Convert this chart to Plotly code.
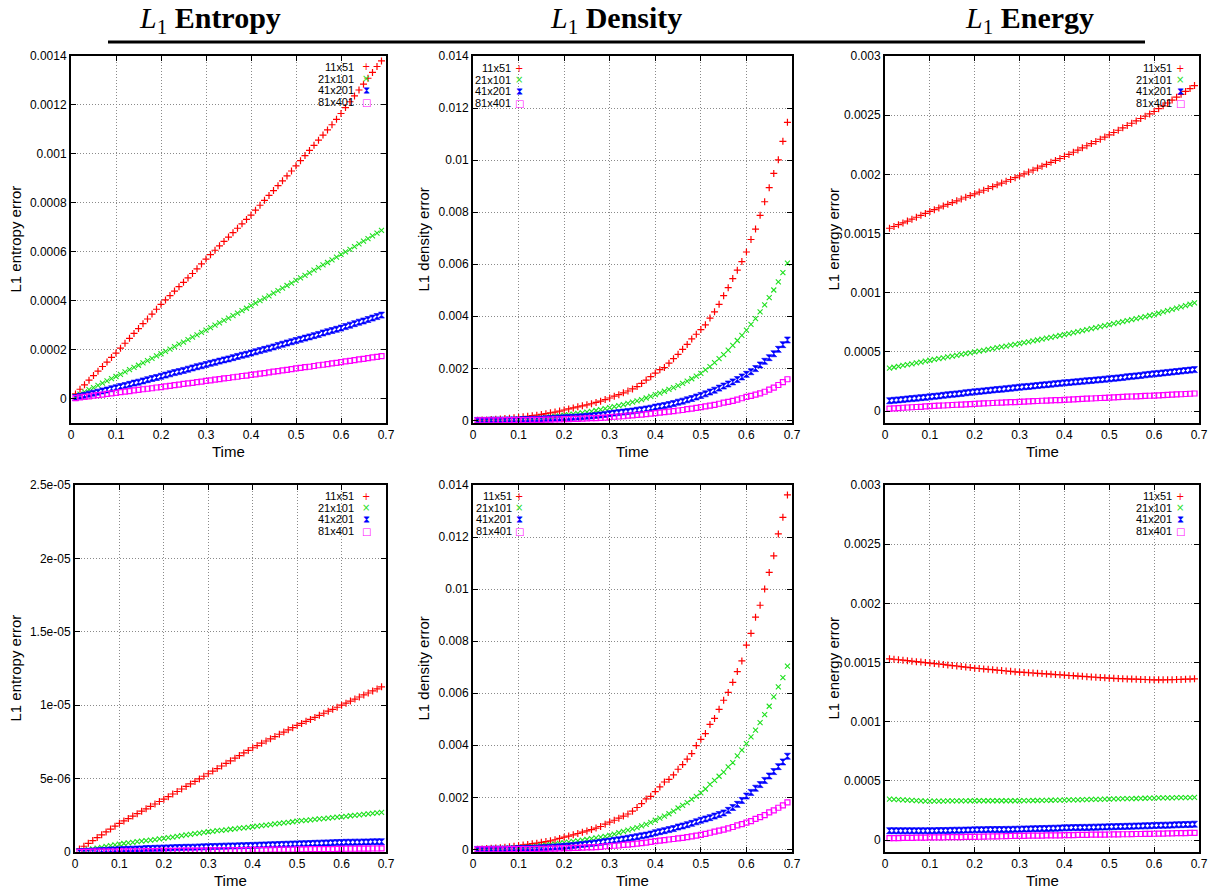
import plotly.graph_objects as go

W, H = 1219, 889

TIME = [0.01, 0.02, 0.03, 0.04, 0.05, 0.06, 0.07, 0.08, 0.09, 0.10,
        0.11, 0.12, 0.13, 0.14, 0.15, 0.16, 0.17, 0.18, 0.19, 0.20,
        0.21, 0.22, 0.23, 0.24, 0.25, 0.26, 0.27, 0.28, 0.29, 0.30,
        0.31, 0.32, 0.33, 0.34, 0.35, 0.36, 0.37, 0.38, 0.39, 0.40,
        0.41, 0.42, 0.43, 0.44, 0.45, 0.46, 0.47, 0.48, 0.49, 0.50,
        0.51, 0.52, 0.53, 0.54, 0.55, 0.56, 0.57, 0.58, 0.59, 0.60,
        0.61, 0.62, 0.63, 0.64, 0.65, 0.66, 0.67, 0.68, 0.69]

SERIES = ["11x51", "21x101", "41x201", "81x401"]

# ---- Top-left: L1 entropy error (values in 1e-6) ----
ENT_T_11 = [19, 38, 56, 75, 94, 112, 131, 149, 168, 186,
            206, 226, 246, 266, 286, 306, 325, 345, 365, 385,
            403, 421, 439, 457, 475, 493, 511, 530, 550, 570,
            588, 606, 624, 642, 660, 678, 696, 714, 732, 750,
            770, 790, 810, 830, 850, 870, 890, 910, 930, 951,
            972, 993, 1014, 1035, 1056, 1077, 1098, 1119, 1141, 1165,
            1189, 1213, 1237, 1261, 1285, 1309, 1333, 1357, 1380]
ENT_T_21 = [9, 18, 27, 36, 45, 54, 63, 72, 81, 90,
            99, 109, 118, 127, 136, 146, 155, 164, 174, 183,
            193, 202, 212, 222, 231, 241, 251, 260, 270, 280,
            290, 300, 309, 319, 329, 339, 349, 359, 369, 380,
            390, 400, 410, 420, 431, 441, 451, 462, 472, 483,
            493, 503, 514, 525, 535, 546, 556, 567, 578, 589,
            599, 610, 621, 632, 643, 654, 665, 676, 687]
ENT_T_41 = [4, 9, 13, 18, 22, 26, 31, 35, 40, 44,
            49, 53, 58, 63, 67, 72, 77, 82, 86, 91,
            96, 101, 106, 110, 115, 120, 125, 130, 134, 139,
            144, 148, 153, 158, 162, 167, 172, 177, 181, 186,
            191, 196, 201, 206, 211, 217, 222, 227, 232, 237,
            242, 247, 252, 257, 262, 268, 273, 278, 283, 288,
            294, 300, 306, 312, 317, 323, 329, 335, 341]
ENT_T_81 = [2, 5, 7, 9, 12, 14, 16, 19, 21, 23,
            26, 28, 30, 33, 35, 38, 40, 42, 45, 47,
            50, 52, 55, 57, 60, 62, 64, 67, 69, 72,
            74, 77, 79, 82, 84, 87, 89, 92, 94, 97,
            99, 102, 104, 107, 110, 112, 115, 117, 120, 123,
            125, 128, 130, 133, 136, 138, 141, 144, 146, 149,
            152, 154, 157, 160, 162, 165, 168, 170, 173]

# ---- Top-middle: L1 density error (values in 1e-5) ----
DEN_T_11 = [1, 2, 2, 3, 4, 5, 7, 8, 10, 12,
            14, 16, 18, 20, 23, 26, 29, 32, 36, 40,
            44, 48, 52, 56, 60, 64, 69, 74, 80, 86,
            93, 99, 106, 113, 121, 130, 142, 155, 168, 182,
            195, 203, 220, 237, 254, 273, 292, 313, 331, 349,
            367, 393, 417, 446, 479, 510, 545, 577, 610, 647,
            695, 735, 788, 840, 894, 949, 1001, 1072, 1145]
DEN_T_21 = [0, 0, 1, 1, 1, 2, 2, 3, 3, 4,
            5, 6, 7, 8, 10, 11, 13, 15, 17, 20,
            22, 24, 27, 29, 32, 35, 38, 41, 45, 49,
            53, 57, 61, 65, 70, 75, 80, 86, 92, 99,
            105, 112, 119, 126, 134, 142, 151, 160, 170, 181,
            194, 207, 222, 237, 253, 270, 288, 307, 327, 347,
            369, 391, 417, 444, 472, 501, 532, 568, 604]
DEN_T_41 = [0, 0, 0, 1, 1, 1, 1, 2, 2, 2,
            3, 3, 4, 4, 5, 6, 7, 8, 9, 10,
            11, 12, 13, 14, 16, 17, 19, 21, 23, 26,
            28, 30, 32, 34, 36, 39, 41, 44, 47, 51,
            54, 57, 61, 65, 70, 74, 79, 84, 90, 96,
            102, 109, 116, 124, 132, 140, 148, 157, 167, 177,
            187, 199, 213, 227, 241, 256, 273, 291, 309]
DEN_T_81 = [0, 0, 0, 0, 0, 0, 1, 1, 1, 1,
            1, 1, 2, 2, 2, 3, 3, 4, 4, 5,
            5, 6, 6, 7, 8, 9, 9, 10, 11, 13,
            14, 15, 16, 18, 19, 21, 22, 24, 26, 28,
            30, 32, 34, 36, 38, 40, 43, 45, 48, 51,
            54, 57, 60, 64, 68, 71, 75, 80, 85, 90,
            94, 99, 104, 110, 118, 126, 136, 147, 158]

# ---- Top-right: L1 energy error (values in 1e-6) ----
ENE_T_11 = [1545, 1560, 1575, 1590, 1606, 1622, 1638, 1654, 1670, 1687,
            1702, 1717, 1732, 1747, 1762, 1777, 1792, 1807, 1821, 1836,
            1851, 1866, 1881, 1896, 1912, 1927, 1942, 1957, 1972, 1988,
            2004, 2020, 2036, 2053, 2069, 2085, 2102, 2118, 2134, 2151,
            2169, 2187, 2205, 2224, 2242, 2260, 2278, 2297, 2315, 2334,
            2354, 2373, 2393, 2413, 2432, 2452, 2472, 2491, 2511, 2531,
            2555, 2579, 2603, 2628, 2652, 2676, 2701, 2725, 2750]
ENE_T_21 = [364, 371, 378, 386, 393, 400, 408, 415, 422, 430,
            437, 444, 451, 458, 465, 472, 479, 486, 493, 500,
            507, 514, 521, 528, 536, 543, 550, 557, 564, 571,
            579, 586, 594, 601, 609, 617, 624, 632, 639, 647,
            655, 664, 672, 681, 689, 697, 706, 714, 723, 731,
            740, 748, 757, 765, 774, 782, 791, 799, 808, 816,
            827, 838, 849, 859, 870, 881, 892, 903, 914]
ENE_T_41 = [88, 92, 95, 99, 103, 106, 110, 114, 117, 121,
            125, 129, 134, 138, 142, 146, 150, 155, 159, 163,
            167, 171, 175, 179, 183, 186, 190, 194, 198, 202,
            206, 209, 213, 217, 221, 224, 228, 232, 235, 239,
            242, 246, 249, 253, 256, 259, 263, 266, 270, 273,
            277, 281, 285, 290, 294, 298, 302, 307, 311, 315,
            319, 323, 327, 331, 335, 339, 343, 347, 351]
ENE_T_81 = [22, 24, 26, 29, 31, 33, 35, 37, 40, 42,
            44, 46, 48, 50, 52, 54, 56, 58, 60, 62,
            64, 66, 67, 69, 71, 72, 74, 76, 77, 79,
            81, 83, 84, 86, 88, 89, 91, 93, 94, 96,
            98, 100, 102, 104, 106, 107, 109, 111, 113, 115,
            117, 118, 120, 122, 124, 125, 127, 129, 130, 132,
            134, 136, 138, 140, 141, 143, 145, 147, 149]

# ---- Bottom-left: L1 entropy error (values in 1e-8) ----
ENT_B_11 = [20, 39, 59, 78, 98, 117, 137, 156, 176, 195,
            212, 228, 245, 261, 278, 294, 311, 327, 344, 360,
            377, 395, 412, 429, 447, 464, 481, 498, 516, 533,
            551, 568, 586, 604, 621, 639, 657, 675, 692, 710,
            725, 741, 756, 771, 786, 802, 817, 832, 847, 862,
            876, 890, 903, 917, 931, 945, 959, 972, 986, 1000,
            1014, 1028, 1042, 1056, 1070, 1083, 1097, 1111, 1125]
ENT_B_21 = [5, 11, 16, 22, 27, 32, 38, 43, 49, 54,
            58, 62, 66, 70, 74, 77, 81, 85, 89, 93,
            98, 102, 107, 111, 116, 120, 125, 129, 134, 138,
            141, 145, 148, 151, 155, 158, 162, 165, 168, 172,
            176, 180, 183, 187, 191, 195, 199, 202, 206, 210,
            213, 216, 219, 222, 225, 228, 231, 234, 237, 240,
            243, 247, 250, 253, 257, 260, 263, 267, 270]
ENT_B_41 = [2, 3, 5, 6, 8, 10, 11, 13, 14, 16,
            17, 18, 19, 20, 21, 23, 24, 25, 26, 27,
            28, 29, 30, 31, 32, 32, 33, 34, 35, 36,
            37, 38, 39, 40, 41, 41, 42, 43, 44, 45,
            46, 47, 48, 49, 50, 51, 52, 53, 54, 55,
            56, 57, 58, 59, 60, 61, 62, 63, 64, 65,
            66, 66, 67, 67, 68, 68, 69, 69, 70]
ENT_B_81 = [0, 1, 1, 2, 2, 2, 3, 3, 3, 4,
            4, 4, 5, 5, 5, 6, 6, 6, 7, 7,
            8, 8, 8, 9, 9, 9, 10, 10, 10, 11,
            11, 11, 12, 12, 12, 13, 13, 13, 14, 14,
            15, 15, 15, 16, 16, 16, 17, 17, 17, 18,
            18, 18, 19, 19, 19, 20, 20, 20, 21, 21,
            22, 22, 22, 23, 23, 23, 24, 24, 25]

# ---- Bottom-middle: L1 density error (values in 1e-5) ----
DEN_B_11 = [1, 2, 3, 4, 5, 6, 8, 10, 12, 15,
            17, 19, 22, 24, 27, 30, 33, 37, 42, 47,
            51, 56, 61, 66, 71, 76, 82, 88, 97, 105,
            112, 120, 128, 136, 147, 161, 176, 194, 204, 222,
            240, 259, 269, 286, 308, 326, 347, 368, 399, 423,
            445, 480, 503, 538, 573, 603, 642, 683, 724, 785,
            830, 892, 938, 1000, 1064, 1128, 1212, 1276, 1362]
DEN_B_21 = [0, 1, 1, 2, 2, 3, 4, 5, 6, 7,
            8, 9, 11, 12, 14, 16, 18, 20, 23, 26,
            28, 31, 33, 36, 38, 41, 44, 47, 50, 54,
            59, 64, 69, 74, 79, 84, 90, 96, 104, 112,
            120, 128, 137, 147, 159, 169, 180, 192, 204, 217,
            232, 250, 265, 281, 297, 317, 333, 359, 381, 406,
            432, 458, 487, 518, 550, 586, 624, 660, 704]
DEN_B_41 = [0, 0, 0, 1, 1, 1, 1, 2, 2, 3,
            3, 4, 4, 5, 6, 7, 8, 9, 10, 12,
            13, 15, 17, 19, 21, 23, 25, 27, 30, 32,
            35, 37, 40, 43, 46, 49, 52, 55, 59, 64,
            68, 72, 76, 80, 86, 90, 95, 100, 106, 112,
            117, 122, 128, 134, 140, 150, 161, 173, 188, 205,
            219, 235, 249, 265, 282, 299, 318, 336, 358]
DEN_B_81 = [0, 0, 0, 0, 0, 0, 0, 1, 1, 1,
            1, 1, 1, 2, 2, 2, 3, 3, 4, 5,
            5, 6, 6, 7, 8, 8, 9, 10, 12, 13,
            14, 15, 17, 18, 20, 22, 24, 26, 29, 32,
            34, 36, 38, 40, 42, 44, 47, 50, 53, 56,
            60, 64, 68, 72, 76, 81, 86, 92, 97, 103,
            109, 117, 124, 132, 142, 150, 160, 169, 181]

# ---- Bottom-right: L1 energy error (values in 1e-6) ----
ENE_B_11 = [1532, 1528, 1524, 1520, 1516, 1512, 1508, 1504, 1500, 1496,
            1492, 1488, 1484, 1479, 1475, 1471, 1466, 1462, 1458, 1453,
            1450, 1446, 1443, 1440, 1436, 1433, 1429, 1426, 1422, 1419,
            1417, 1414, 1412, 1409, 1407, 1404, 1402, 1399, 1397, 1394,
            1391, 1389, 1386, 1384, 1381, 1378, 1376, 1373, 1371, 1368,
            1367, 1365, 1364, 1362, 1361, 1360, 1358, 1357, 1355, 1354,
            1354, 1354, 1355, 1356, 1357, 1358, 1360, 1361, 1363]
ENE_B_21 = [346, 344, 342, 340, 338, 336, 334, 332, 330, 329,
            329, 330, 330, 331, 331, 331, 332, 332, 333, 333,
            333, 333, 333, 333, 333, 333, 333, 333, 333, 333,
            334, 334, 335, 335, 336, 336, 337, 338, 338, 339,
            340, 340, 341, 342, 343, 344, 344, 345, 346, 347,
            348, 349, 350, 350, 351, 352, 353, 354, 355, 356,
            357, 357, 358, 358, 359, 359, 360, 360, 361]
ENE_B_41 = [80, 80, 79, 79, 79, 79, 79, 79, 79, 79,
            80, 81, 81, 82, 83, 84, 84, 85, 86, 87,
            88, 88, 89, 89, 90, 90, 91, 91, 92, 93,
            94, 95, 96, 97, 98, 99, 100, 101, 102, 104,
            105, 106, 107, 108, 108, 109, 110, 111, 112, 113,
            114, 115, 116, 117, 118, 119, 120, 121, 122, 124,
            125, 126, 127, 128, 130, 131, 132, 133, 135]
ENE_B_81 = [17, 18, 18, 19, 19, 20, 21, 21, 22, 23,
            23, 24, 24, 25, 25, 26, 26, 27, 27, 28,
            29, 30, 31, 32, 32, 33, 34, 35, 36, 37,
            37, 38, 38, 39, 39, 40, 40, 41, 41, 42,
            43, 43, 44, 44, 45, 46, 46, 47, 47, 48,
            49, 49, 50, 50, 51, 52, 52, 53, 53, 54,
            55, 56, 57, 58, 59, 59, 60, 61, 62]

X_TICKS = [0, 0.1, 0.2, 0.3, 0.4, 0.5, 0.6, 0.7]
X_TICKTEXT = ["0", "0.1", "0.2", "0.3", "0.4", "0.5", "0.6", "0.7"]
ENT_T_TICKS = [0, 0.0002, 0.0004, 0.0006, 0.0008, 0.001, 0.0012, 0.0014]
ENT_T_TICKTEXT = ["0", "0.0002", "0.0004", "0.0006", "0.0008", "0.001", "0.0012", "0.0014"]
DEN_TICKS = [0, 0.002, 0.004, 0.006, 0.008, 0.01, 0.012, 0.014]
DEN_TICKTEXT = ["0", "0.002", "0.004", "0.006", "0.008", "0.01", "0.012", "0.014"]
ENE_TICKS = [0, 0.0005, 0.001, 0.0015, 0.002, 0.0025, 0.003]
ENE_TICKTEXT = ["0", "0.0005", "0.001", "0.0015", "0.002", "0.0025", "0.003"]
ENT_B_TICKS = [0, 5e-06, 1e-05, 1.5e-05, 2e-05, 2.5e-05]
ENT_B_TICKTEXT = ["0", "5e-06", "1e-05", "1.5e-05", "2e-05", "2.5e-05"]

COLUMN_TITLES = ["<i>L</i><sub>1</sub> <b>Entropy</b>",
                 "<i>L</i><sub>1</sub> <b>Density</b>",
                 "<i>L</i><sub>1</sub> <b>Energy</b>"]

RED, GREEN, BLUE, MAGENTA = "#ff0000", "#1ee01e", "#0000ff", "#ff00ff"
COLORS = [RED, GREEN, BLUE, MAGENTA]
MARKERS = [
    dict(symbol="cross-thin", size=5, color=RED, line=dict(width=1.2, color=RED)),
    dict(symbol="x-thin", size=5, color=GREEN, line=dict(width=1.1, color=GREEN)),
    dict(symbol="hourglass", size=6, color=BLUE, line=dict(width=0.6, color=BLUE)),
    dict(symbol="square-open", size=5, color=MAGENTA, line=dict(width=1.2, color=MAGENTA)),
]
LEGEND_GLYPHS = ["+", "\u00d7", "\u29d7", "\u25a1"]

FONT = "Liberation Sans, Arial, Helvetica, sans-serif"

panels = [
    dict(px=(71, 386), py=(56, 423), ys=[ENT_T_11, ENT_T_21, ENT_T_41, ENT_T_81], unit=1e-6,
         yr=[-0.0001, 0.0014], tv=ENT_T_TICKS, tt=ENT_T_TICKTEXT, ytitle="L1 entropy error",
         tx=15, leg=(356, 366, 67)),
    dict(px=(473, 792), py=(56, 423), ys=[DEN_T_11, DEN_T_21, DEN_T_41, DEN_T_81], unit=1e-5,
         yr=[-0.0001, 0.014], tv=DEN_TICKS, tt=DEN_TICKTEXT, ytitle="L1 density error",
         tx=423, leg=(513, 519, 68)),
    dict(px=(885, 1199), py=(56, 423), ys=[ENE_T_11, ENE_T_21, ENE_T_41, ENE_T_81], unit=1e-6,
         yr=[-0.0001, 0.003], tv=ENE_TICKS, tt=ENE_TICKTEXT, ytitle="L1 energy error",
         tx=833, leg=(1174, 1180, 68)),
    dict(px=(75, 386), py=(485, 852), ys=[ENT_B_11, ENT_B_21, ENT_B_41, ENT_B_81], unit=1e-8,
         yr=[0, 2.5e-05], tv=ENT_B_TICKS, tt=ENT_B_TICKTEXT, ytitle="L1 entropy error",
         tx=15, leg=(356, 366, 496)),
    dict(px=(473, 792), py=(485, 852), ys=[DEN_B_11, DEN_B_21, DEN_B_41, DEN_B_81], unit=1e-5,
         yr=[-0.0001, 0.014], tv=DEN_TICKS, tt=DEN_TICKTEXT, ytitle="L1 density error",
         tx=423, leg=(514, 519, 496)),
    dict(px=(885, 1199), py=(485, 852), ys=[ENE_B_11, ENE_B_21, ENE_B_41, ENE_B_81], unit=1e-6,
         yr=[-0.0001, 0.003], tv=ENE_TICKS, tt=ENE_TICKTEXT, ytitle="L1 energy error",
         tx=833, leg=(1174, 1180, 496)),
]

fig = go.Figure()
layout = {}
annotations = []

for i, p in enumerate(panels):
    k = "" if i == 0 else str(i + 1)
    for j, vals in enumerate(p["ys"]):
        fig.add_trace(go.Scatter(
            x=TIME, y=[v * p["unit"] for v in vals], mode="markers", name=SERIES[j],
            marker=MARKERS[j], xaxis="x" + k, yaxis="y" + k, showlegend=False,
            hoverinfo="x+y+name"))
    axis_common = dict(showline=True, linecolor="black", linewidth=2, mirror="ticks",
                       ticks="inside", ticklen=5, tickwidth=1, tickcolor="black",
                       showgrid=True, gridcolor="#8a8a8a", griddash="1px,2px", gridwidth=1,
                       zeroline=False, tickfont=dict(family=FONT, size=12, color="black"),
                       automargin=False)
    layout["xaxis" + k] = dict(domain=[p["px"][0] / W, p["px"][1] / W], anchor="y" + k,
                               range=[0, 0.7], tickvals=X_TICKS, ticktext=X_TICKTEXT,
                               **axis_common)
    layout["yaxis" + k] = dict(domain=[1 - p["py"][1] / H, 1 - p["py"][0] / H], anchor="x" + k,
                               range=p["yr"], tickvals=p["tv"], ticktext=p["tt"],
                               **axis_common)
    # axis titles
    annotations.append(dict(text=p["ytitle"], xref="paper", yref="paper", x=p["tx"] / W,
                            y=1 - (p["py"][0] + p["py"][1]) / 2 / H, textangle=-90,
                            showarrow=False, xanchor="center", yanchor="middle",
                            font=dict(family=FONT, size=15, color="black")))
    annotations.append(dict(text="Time", xref="paper", yref="paper",
                            x=(p["px"][0] + p["px"][1]) / 2 / W, y=1 - (p["py"][1] + 28) / H,
                            showarrow=False, xanchor="center", yanchor="middle",
                            font=dict(family=FONT, size=15, color="black")))
    # legend (label then symbol, gnuplot style)
    tx_right, sym_x, y0 = p["leg"]
    for j, name in enumerate(SERIES):
        yy = 1 - (y0 + j * 11.7) / H
        annotations.append(dict(text=name, xref="paper", yref="paper", x=tx_right / W, y=yy,
                                showarrow=False, xanchor="right", yanchor="middle",
                                font=dict(family=FONT, size=11, color="black")))
        annotations.append(dict(text=LEGEND_GLYPHS[j], xref="paper", yref="paper",
                                x=sym_x / W, y=yy, showarrow=False, xanchor="center",
                                yanchor="middle",
                                font=dict(family="DejaVu Sans", size=10, color=COLORS[j])))

# column titles
for cx, t in zip([210, 616, 1029], COLUMN_TITLES):
    annotations.append(dict(text=t, xref="paper", yref="paper", x=cx / W, y=1 - 20 / H,
                            showarrow=False, xanchor="center", yanchor="middle",
                            font=dict(family="Liberation Serif, DejaVu Serif, serif", size=30,
                                      color="black")))

fig.update_layout(
    width=W, height=H, margin=dict(l=0, r=0, t=0, b=0),
    paper_bgcolor="white", plot_bgcolor="white",
    annotations=annotations,
    shapes=[dict(type="line", xref="paper", yref="paper", x0=108 / W, x1=1145 / W,
                 y0=1 - 42 / H, y1=1 - 42 / H, line=dict(color="black", width=3))],
    **layout,
)

fig.write_html("out.html", config={"displayModeBar": False},
               post_script="document.body.style.margin='0px';document.body.style.overflow='hidden';")
